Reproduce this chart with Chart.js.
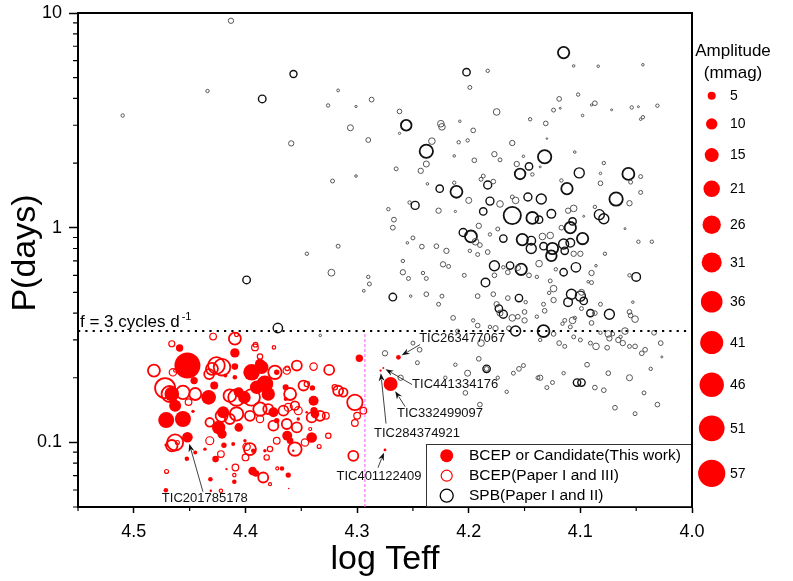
<!DOCTYPE html>
<html><head><meta charset="utf-8">
<script src="https://cdn.jsdelivr.net/npm/chart.js@4.4.0/dist/chart.umd.min.js"></script>
<style>html,body{margin:0;padding:0;background:#fff;}canvas{display:block;}</style>
</head><body>
<canvas id="c" width="793" height="581"></canvas>
<script>
// ---------------- DATA ----------------
// SPB (Paper I and II): log Teff, period (d), amplitude (mmag)
const spbLogT = [4.413,4.357,4.434,4.385,4.510,4.317,4.326,4.301,4.287,4.306,4.290,4.359,4.265,4.301,4.322,4.272,4.267,4.268,4.345,4.317,4.399,4.323,4.290,4.289,4.294,4.268,4.262,4.262,4.371,4.333,
4.115,4.202,4.183,4.199,4.106,4.084,4.044,4.119,4.102,4.087,4.090,4.124,4.118,4.098,4.072,4.054,4.048,4.031,4.044,4.046,
4.256,4.225,4.224,4.208,4.196,4.175,4.145,4.131,4.130,4.161,4.238,4.233,4.209,4.201,4.213,4.195,4.177,4.172,4.151,4.132,
4.136,4.105,4.238,4.243,4.157,4.146,4.154,4.143,4.101,4.079,4.082,4.057,4.046,4.082,4.046,4.068,4.056,4.112,4.117,4.226,
4.237,4.211,4.213,4.200,4.189,4.187,4.183,4.178,4.181,4.172,4.161,4.158,4.147,4.135,4.161,4.143,4.137,4.126,4.111,4.106,
4.109,4.107,4.083,4.079,4.098,4.060,4.048,4.036,4.050,4.056,4.078,4.086,4.090,4.104,4.115,4.122,4.125,4.126,4.115,4.109,
4.114,4.106,4.100,4.134,4.127,4.133,4.137,4.144,4.144,4.152,4.153,4.156,4.163,4.169,4.177,4.177,4.169,4.174,4.181,4.191,
4.198,4.205,4.194,4.190,4.183,4.199,4.192,4.220,4.242,4.250,4.255,4.259,4.223,4.218,4.204,4.259,4.254,4.241,4.238,4.185,
4.229,4.212,4.227,4.187,4.253,4.248,4.252,4.238,4.224,4.192,4.178,4.165,4.155,4.108,4.100,4.055,4.097,4.087,4.117,4.093,
4.090,4.127,4.124,4.128,4.124,4.133,4.132,4.111,4.099,4.097,4.099,4.091,4.087,4.082,4.074,4.090,4.107,4.105,4.109,4.114,
4.116,4.133,4.124,4.136,4.119,4.114,4.106,4.100,4.091,4.086,4.076,4.082,4.075,4.074,4.071,4.066,4.062,4.064,4.060,4.056,
4.055,4.051,4.053,4.056,4.051,4.042,4.045,4.034,4.028,4.027,4.037,4.056,4.075,4.094,4.103,4.099,4.087,4.079,4.115,4.136,
4.130,4.125,4.043,4.031,4.069,4.051,4.139,4.165,4.146,4.227,4.175,4.173,4.169,4.161,4.156,4.150,4.150,4.172,4.214,4.196,
4.192,4.181,4.176,4.164,4.158,4.210,4.189,4.250,4.244,4.275,4.246,4.191,4.184,4.184,4.201,4.221,4.261,4.203,4.190,4.166,
4.160,4.155,4.151,4.138,4.149,4.139,4.174,4.212];
const spbP = [9.2,5.2,4.33,3.98,3.33,4.36,3.71,3.67,3.95,2.92,2.56,2.47,1.88,1.74,1.65,1.22,1.09,1.0,0.756,0.82,0.571,0.617,0.59,0.547,0.508,0.475,3.48,2.75,0.341,0.315,
6.54,5.3,5.38,4.5,5.67,5.65,5.74,3.98,4.17,3.8,3.73,3.53,3.6,3.33,3.54,3.63,3.66,3.7,3.27,3.2,
3.0,3.05,2.95,3.13,2.84,3.46,3.2,3.06,2.6,2.48,2.27,2.53,2.5,2.55,2.16,2.06,2.2,2.07,2.15,2.14,
1.92,2.25,1.98,1.84,1.98,1.93,1.78,1.77,1.8,2.0,1.79,1.78,1.73,1.61,1.46,1.36,1.3,1.52,1.66,1.52,
1.6,1.47,1.62,1.34,1.68,1.74,1.58,1.64,1.33,1.29,1.39,1.34,1.39,1.36,1.14,1.11,1.09,1.16,1.2,1.23,
1.0,1.07,1.15,1.1,0.89,0.99,0.86,0.86,0.59,0.6,0.756,0.665,0.615,0.654,0.62,0.64,0.8,0.74,0.84,0.85,
0.78,0.756,0.756,0.91,0.92,0.82,0.68,0.8,0.87,0.88,0.64,0.65,0.666,0.654,0.665,0.6,0.89,0.986,0.93,1.02,
0.91,0.95,0.86,0.83,0.77,0.78,0.75,0.78,0.816,0.896,0.85,0.70,0.675,0.66,0.6,0.62,0.58,0.615,0.58,0.555,
0.82,1.19,1.2,1.19,1.31,1.27,0.48,0.49,0.48,0.48,0.49,0.47,0.47,0.49,0.48,1.63,1.13,1.25,1.0,0.56,
0.555,0.565,0.52,0.497,0.46,0.44,0.41,0.45,0.5,0.456,0.42,0.4,0.4,0.44,0.395,0.36,0.37,0.38,0.345,0.37,
0.357,0.33,0.32,0.30,0.29,0.28,0.31,0.30,0.29,0.28,0.276,0.324,0.32,0.305,0.32,0.30,0.29,0.31,0.33,0.405,
0.39,0.375,0.45,0.28,0.28,0.27,0.26,0.324,0.29,0.25,0.22,0.2,0.21,0.23,0.19,0.19,0.18,0.175,0.21,0.2,
0.18,0.19,0.17,0.15,0.145,0.136,0.59,0.62,0.6,0.44,0.44,0.42,0.395,0.38,0.385,0.405,0.37,0.4,0.38,0.37,
0.35,0.345,0.34,0.34,0.33,0.33,0.29,0.29,0.27,0.26,0.235,0.245,0.22,0.22,0.21,0.2,0.2,0.17,0.15,0.172,
0.21,0.22,0.228,0.2,0.45,0.385,0.2,0.23];
const spbAmp = [2.2,3.8,0.9,4.4,0.9,0.6,0.9,0.4,1.8,2.8,1.8,2.2,1.2,0.5,1.2,0.9,1.8,1.8,0.9,1.2,4.4,3.6,0.9,1.2,0.6,4.4,1.7,0.4,6.8,0.5,
10,4.2,0.9,1.2,0.5,0.5,0.5,1.7,0.9,1.7,0.4,1.2,0.3,0.5,0.3,0.9,0.3,0.9,0.9,0.5,
8.7,3.4,3.4,0.5,1.7,3.4,0.9,1.7,0.2,2.2,13.8,3.4,0.9,0.9,0.5,1.7,2.2,1.2,0.5,13.8,
0.3,0.5,2.8,2.2,2.2,4.2,8.7,0.9,7.7,0.9,0.5,11,1.2,1.7,1.2,13.8,2.2,10,0.9,4.2,
0.5,11,0.9,2.8,1.2,1.2,4.9,1.7,4.9,3.4,1.2,3.4,4.9,7.7,23,11,4.2,5.7,2.2,3.4,
10,4.2,7.7,7.7,10,0.3,0.9,0.9,5.7,0.9,0.9,0.5,2.2,6.8,4.2,0.9,10,8.7,7.7,5.7,
4.2,2.2,2.2,3.4,3.4,4.2,3.4,7.7,5.7,10,10,2.2,4.2,0.9,7.7,1.7,4.2,1.2,0.9,2.2,
11,4.9,3.4,1.7,1.7,0.9,1.2,2.2,1.7,1.2,0.5,0.9,2.2,1.2,1.2,2.2,1.2,0.9,1.2,5.7,
1.7,0.4,2.2,4.2,0.9,4.9,0.5,1.7,1.2,1.7,1.7,1.7,4.2,7.7,7.7,1.2,0.3,0.9,1.7,0.5,
1.2,1.2,3.4,0.9,2.2,1.2,1.7,5.7,2.8,4.2,1.2,4.2,1.7,1.2,7.7,1.7,3.4,0.9,1.2,1.2,
0.9,11,1.7,0.9,1.7,1.2,1.2,1.2,1.2,3.4,1.7,0.9,3.4,2.2,1.2,2.2,2.2,0.9,3.4,1.7,
1.7,3.4,0.5,1.2,1.7,1.7,1.7,1.7,1.7,0.3,0.9,2.8,1.7,1.7,4.2,4.2,1.7,1.7,0.9,2.2,
1.2,1.2,1.2,1.7,1.7,1.2,0.9,1.7,1.7,1.2,2.2,4.2,4.9,3.4,1.7,1.7,2.2,2.8,1.7,0.9,
1.7,0.9,2.2,1.7,7.7,1.2,3.4,1.2,1.7,2.2,1.2,1.7,4.2,1.7,2.8,0.9,2.2,1.7,1.7,0.9,
1.2,1.7,1.2,1.2,0.9,0.9,0.9,0.9];

// BCEP (Paper I and III)
const bcepLogT = [4.482,4.466,4.463,4.472,4.468,4.456,4.445,4.451,4.463,4.466,4.429,4.4095,4.426,4.421,4.4325,4.414,4.408,4.432,4.408,4.414,
4.396,4.3945,4.387,4.3796,4.387,4.399,4.396,4.432,4.3557,4.378,4.372,4.360,4.3617,4.3527,4.363,4.354,4.339,4.345,4.3915,4.387,
4.3745,4.3736,4.325,4.348,4.317,4.3124,4.320,4.302,4.2944,4.300,4.302,4.3034,4.3258,4.334,4.3467,4.381,4.3841,4.375,4.363,4.354,
4.366,4.3557,4.3407,4.3333,4.328,4.4707,4.422,4.422,4.409,4.410,4.465,4.430,4.4214,4.400,4.378,4.3715,4.342,4.3626,4.391,4.461,4.408];
const bcepP = [0.216,0.288,0.216,0.179,0.168,0.171,0.168,0.154,0.0999,0.0965,0.311,0.304,0.228,0.224,0.208,0.165,0.162,0.124,0.1356,0.1285,
0.133,0.162,0.143,0.143,0.1285,0.0954,0.0931,0.1018,0.0931,0.0931,0.1018,0.168,0.1456,0.1405,0.216,0.228,0.2254,0.187,0.277,0.251,
0.277,0.212,0.2176,0.184,0.174,0.171,0.1805,0.1536,0.1405,0.133,0.1231,0.0866,0.1074,0.0957,0.0999,0.0851,0.0686,0.1196,0.1218,0.1174,
0.1405,0.1483,0.1307,0.133,0.133,0.0732,0.0595,0.0882,0.0764,0.0704,0.212,0.22,0.133,0.0851,0.0639,0.0756,0.1154,0.2214,0.285,0.0999,0.318];
const bcepAmp = [11.1,2.8,0.7,31,19.8,13.9,11.1,3.4,19.8,10,3.4,11.1,21.3,21.3,7.7,12.2,21.3,5.7,13.9,7.7,
7.7,21.3,13.9,7.7,4.2,4.2,11.1,4.9,13.9,2.2,3.4,11.1,4.9,4.9,4.2,7.7,4.2,2.2,3.4,2.2,
0.9,13.9,7.7,7.7,7.7,5.7,2.2,18.3,3.4,3.4,3.4,7.7,2.2,1.2,4.2,2.2,7.7,7.7,7.7,7.7,
7.7,5.7,7.7,7.7,3.4,1.2,0.9,3.4,3.4,0.9,4.2,11.1,11.1,3.4,0.7,0.7,0.7,1.6,1.6,1.2,1.2];

// BCEP or candidate (this work)
const newLogT = [4.452,4.459,4.446,4.466,4.463,4.471,4.456,4.447,4.433,4.428,4.420,4.424,4.421,4.4095,4.4095,4.4095,4.401,4.406,4.406,4.411,
4.4005,4.418,4.3945,4.3855,4.3826,4.390,4.3796,4.387,4.372,4.375,4.372,4.364,4.364,4.3626,4.360,4.3826,4.393,4.340,4.339,4.3386,
4.3377,4.3407,4.3527,4.3452,4.298,4.4713,4.445,4.4525,4.4713,4.431,4.4314,4.4268,4.410,4.417,4.4193,4.3936,4.3906,4.3617,4.3673,4.3572,
4.4363,4.3613];
const newP = [0.228,0.275,0.194,0.168,0.148,0.127,0.1285,0.1395,0.162,0.184,0.138,0.1174,0.1094,0.261,0.2254,0.2009,0.162,0.171,0.1174,0.0983,
0.1018,0.2047,0.2121,0.2238,0.1872,0.1805,0.1681,0.2321,0.2121,0.138,0.1262,0.1805,0.1593,0.1074,0.1018,0.0914,0.0914,0.1793,0.1564,0.1405,
0.1356,0.1054,0.1285,0.138,0.2464,0.0972,0.0898,0.0839,0.0598,0.0595,0.0673,0.0836,0.0655,0.0751,0.097,0.0735,0.0716,0.0704,0.0756,0.0914,
0.093,0.061];
const newAmp = [52,4.2,4.2,16.4,11.1,19.8,19.8,0.9,16.4,4.9,11.1,13.9,6.8,6.8,3.4,1.6,12.2,7.7,5.7,1.2,
0.9,1.2,21.3,13.9,21.3,13.9,13.9,7.7,2.2,7.7,2.2,2.8,1.2,7.7,3.4,0.9,1.6,2.2,7.7,4.2,
5.7,8.7,0.9,0.5,4.2,0.7,1.2,1.6,1.6,0.5,1.6,3.4,1.6,0.44,2.2,5.7,3.4,2.2,1.6,0.44,
0.9,0.2];

// Labelled stars (part of "this work")
const ticNames = ['TIC201785178','TIC401122409','TIC284374921','TIC441334176','TIC332499097','TIC263477067'];
const ticLogT = [4.452,4.275,4.279,4.2765,4.270,4.263];
const ticP = [0.1057,0.0922,0.216,0.222,0.187,0.249];
const ticAmp = [8.7,0.6,0.4,0.3,15,1.7];

// Axes / reference values
const xTicks = [4.0,4.1,4.2,4.3,4.4,4.5];
const xMinorTicks = [4.05,4.15,4.25,4.35,4.45,4.55];
const yTicks = [0.1,1,10];
const yMinorTicks = [0.05,0.06,0.07,0.08,0.09,0.2,0.3,0.4,0.5,0.6,0.7,0.8,0.9,2,3,4,5,6,7,8,9];
const ampLegend = [5,10,15,21,26,31,36,41,46,51,57];
const freqLineP = 0.33;       // f = 3 cycles/d
const dividerLogT = 4.293;
const dividerTopP = 0.32;
const seriesNames = ['BCEP or Candidate(This work)','BCEP(Paper I and III)','SPB(Paper I and II)'];
const xTitle = 'log Teff';
const yTitle = 'P(days)';

// annotation label anchors (data coordinates)
const notes = [
  {label:[4.4364,0.0546], tail:[4.4381,0.0589]},
  {label:[4.2804,0.0692], tail:[4.2813,0.0762]},
  {label:[4.2463,0.1098], tail:[4.2741,0.1223]},
  {label:[4.2122,0.1859], tail:[4.2508,0.1859]},
  {label:[4.2257,0.1361], tail:[4.2570,0.1468]},
  {label:[4.2059,0.3047], tail:[4.2436,0.2856]}
];

// ---------------- CHART ----------------
const FONT = '"Liberation Sans", Arial, Helvetica, sans-serif';
const radiusOf = a => 1.8 * Math.sqrt(a);
const toPoints = (xs, ys, as) => xs.map((v, i) => ({x: v, y: ys[i], r: radiusOf(as[i])}));

const overlay = {
  id: 'overlay',
  afterDatasetsDraw(chart) {
    const {ctx, chartArea: ca, scales: {x, y}} = chart;
    ctx.save();

    // legend box inside plot
    const bw = 266, bh = 63;
    const bx = ca.right - bw, by = ca.bottom - bh;
    ctx.fillStyle = '#fff';
    ctx.fillRect(bx, by, bw, bh);
    ctx.strokeStyle = '#333'; ctx.lineWidth = 1;
    ctx.strokeRect(bx + 0.5, by + 0.5, bw - 1, bh - 1);
    const rows = [by + 11.7, by + 31.7, by + 51.7];
    const mx = bx + 20.7;
    ctx.beginPath(); ctx.arc(mx, rows[0], 6.5, 0, Math.PI * 2); ctx.fillStyle = '#ff0000'; ctx.fill();
    ctx.beginPath(); ctx.arc(mx, rows[1], 5.5, 0, Math.PI * 2); ctx.strokeStyle = '#ff0000'; ctx.lineWidth = 1.2; ctx.stroke();
    ctx.beginPath(); ctx.arc(mx, rows[2], 6.5, 0, Math.PI * 2); ctx.strokeStyle = '#000'; ctx.lineWidth = 1.3; ctx.stroke();
    ctx.fillStyle = '#000'; ctx.font = '15.5px ' + FONT; ctx.textAlign = 'left'; ctx.textBaseline = 'middle';
    seriesNames.forEach((t, i) => ctx.fillText(t, bx + 43, rows[i] + 0.5));

    // frame (top & right)
    ctx.strokeStyle = '#000'; ctx.lineWidth = 2;
    ctx.beginPath(); ctx.moveTo(ca.left, ca.top); ctx.lineTo(ca.right, ca.top); ctx.lineTo(ca.right, ca.bottom); ctx.stroke();

    // minor ticks
    ctx.lineWidth = 1.2; ctx.beginPath();
    xMinorTicks.forEach(v => { const px = x.getPixelForValue(v); ctx.moveTo(px, ca.bottom); ctx.lineTo(px, ca.bottom + 4); });
    yMinorTicks.forEach(v => { const py = y.getPixelForValue(v); ctx.moveTo(ca.left, py); ctx.lineTo(ca.left - 5, py); });
    ctx.stroke();

    // axis titles
    ctx.fillStyle = '#000'; ctx.font = '34px ' + FONT; ctx.textAlign = 'center'; ctx.textBaseline = 'alphabetic';
    ctx.fillText(xTitle, (ca.left + ca.right) / 2, ca.bottom + 62);
    ctx.save();
    ctx.translate(ca.left - 43, (ca.top + ca.bottom) / 2 - 7);
    ctx.rotate(-Math.PI / 2);
    ctx.fillText(yTitle, 0, 0);
    ctx.restore();

    // f = 3 cycles d^-1 label
    const ly = y.getPixelForValue(freqLineP);
    ctx.fillStyle = '#000'; ctx.font = '17px ' + FONT; ctx.textAlign = 'left'; ctx.textBaseline = 'alphabetic';
    const base = 'f = 3 cycles d';
    ctx.fillText(base, ca.left + 2, ly - 4);
    const w = ctx.measureText(base).width;
    ctx.font = '11px ' + FONT;
    ctx.fillText('-1', ca.left + 2 + w + 2, ly - 11);

    // annotations with arrows
    ctx.font = '13px ' + FONT; ctx.textAlign = 'center'; ctx.textBaseline = 'middle';
    notes.forEach((n, i) => {
      const tx = x.getPixelForValue(n.label[0]), ty = y.getPixelForValue(n.label[1]);
      ctx.fillStyle = '#111';
      ctx.fillText(ticNames[i], tx, ty);
      const sx = x.getPixelForValue(n.tail[0]), sy = y.getPixelForValue(n.tail[1]);
      const cx = x.getPixelForValue(ticLogT[i]), cy = y.getPixelForValue(ticP[i]);
      const dx = cx - sx, dy = cy - sy, len = Math.hypot(dx, dy);
      const ux = dx / len, uy = dy / len;
      const stop = radiusOf(ticAmp[i]) + 1.5;
      const hx = cx - ux * stop, hy = cy - uy * stop;
      const hl = 8, hw = 3;
      ctx.strokeStyle = '#111'; ctx.lineWidth = 0.8;
      ctx.beginPath(); ctx.moveTo(sx, sy); ctx.lineTo(hx - ux * hl * 0.8, hy - uy * hl * 0.8); ctx.stroke();
      ctx.beginPath();
      ctx.moveTo(hx, hy);
      ctx.lineTo(hx - ux * hl - uy * hw, hy - uy * hl + ux * hw);
      ctx.lineTo(hx - ux * hl * 0.7, hy - uy * hl * 0.7);
      ctx.lineTo(hx - ux * hl + uy * hw, hy - uy * hl - ux * hw);
      ctx.closePath(); ctx.fill();
    });

    // amplitude size legend (right)
    const ax = ca.right + 19.7;
    ctx.fillStyle = '#000'; ctx.font = '17px ' + FONT; ctx.textAlign = 'center'; ctx.textBaseline = 'middle';
    ctx.fillText('Amplitude', ca.right + 41, 51);
    ctx.fillText('(mmag)', ca.right + 41, 73);
    let cyL = 95.7;
    ampLegend.forEach((a, i) => {
      const r = radiusOf(a);
      if (i > 0) cyL += radiusOf(ampLegend[i - 1]) + r + 18.5;
      ctx.beginPath(); ctx.arc(ax, cyL, r, 0, Math.PI * 2); ctx.fillStyle = '#ff0000'; ctx.fill();
      ctx.fillStyle = '#000'; ctx.font = '14px ' + FONT; ctx.textAlign = 'left';
      ctx.fillText(String(a), ca.right + 38, cyL + 0.5);
    });
    ctx.restore();
  }
};

const spbWidth = c => { const r = c.raw ? c.raw.r : 2; return r >= 5 ? 1.8 : (r >= 3.5 ? 1.4 : 1.0); };
const spbColor = c => { const r = c.raw ? c.raw.r : 2; return r >= 3.5 ? '#111' : '#555'; };
const openWidth = c => { const r = c.raw ? c.raw.r : 2; return r >= 4 ? 1.8 : 1.2; };

new Chart(document.getElementById('c'), {
  type: 'bubble',
  data: {
    datasets: [
      {type: 'line', label: 'f3', data: [{x: 4.55, y: freqLineP}, {x: 4.0, y: freqLineP}],
       borderColor: '#000', borderWidth: 2, borderDash: [2.2, 5.1], pointRadius: 0, fill: false},
      {type: 'line', label: 'divider', data: [{x: dividerLogT, y: 0.05}, {x: dividerLogT, y: dividerTopP}],
       borderColor: '#ff55ff', borderWidth: 1, borderDash: [3, 2], pointRadius: 0, fill: false},
      {label: seriesNames[0], data: toPoints(newLogT.concat(ticLogT), newP.concat(ticP), newAmp.concat(ticAmp)),
       backgroundColor: '#ff0000', borderColor: '#ff0000', borderWidth: 0},
      {label: seriesNames[1], data: toPoints(bcepLogT, bcepP, bcepAmp),
       backgroundColor: 'rgba(255,255,255,0)', borderColor: '#ff0000', borderWidth: openWidth},
      {label: seriesNames[2], data: toPoints(spbLogT, spbP, spbAmp),
       backgroundColor: 'rgba(255,255,255,0)', borderColor: spbColor, borderWidth: spbWidth}
    ]
  },
  options: {
    responsive: false, animation: false, devicePixelRatio: 1, events: [],
    layout: {padding: {left: 30, right: 101, top: 13, bottom: 30}},
    plugins: {legend: {display: false}, tooltip: {enabled: false}},
    scales: {
      x: {
        type: 'linear', min: 4.0, max: 4.55, reverse: true,
        afterBuildTicks: s => { s.ticks = xTicks.map(v => ({value: v})); },
        ticks: {callback: v => Number(v).toFixed(1), color: '#000', font: {family: FONT, size: 18, lineHeight: 1}, padding: 10, maxRotation: 0, autoSkip: false},
        grid: {display: true, drawOnChartArea: false, drawTicks: true, tickLength: 6, tickColor: '#000', tickWidth: 1.5},
        border: {display: true, color: '#000', width: 2},
        title: {display: false}
      },
      y: {
        type: 'logarithmic', min: 0.05, max: 10,
        afterBuildTicks: s => { s.ticks = yTicks.map(v => ({value: v, major: true})); },
        ticks: {callback: v => String(v), color: '#000', font: {family: FONT, size: 18, lineHeight: 0.6}, padding: 7, autoSkip: false},
        grid: {display: true, drawOnChartArea: false, drawTicks: true, tickLength: 9, tickColor: '#000', tickWidth: 1.5},
        border: {display: true, color: '#000', width: 2},
        title: {display: false}
      }
    }
  },
  plugins: [overlay]
});
</script>
</body></html>
